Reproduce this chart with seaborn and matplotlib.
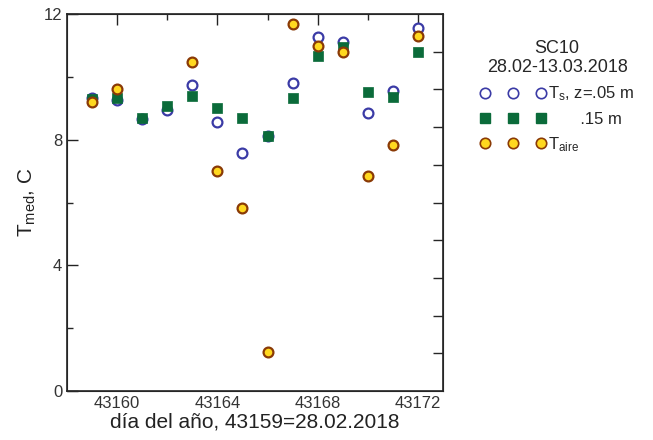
import numpy as np
import pandas as pd
import matplotlib.pyplot as plt
from matplotlib.lines import Line2D
import seaborn as sns

# day index (43159 = 28.02.2018)
dias = [43159, 43160, 43161, 43162, 43163, 43164, 43165,
        43166, 43167, 43168, 43169, 43170, 43171, 43172]
ts_05 = [9.34, 9.26, 8.65, 8.94, 9.73, 8.58, 7.58,
         8.13, 9.81, 11.26, 11.12, 8.84, 9.56, 11.56]
ts_15 = [9.29, 9.32, 8.69, 9.07, 9.38, 9.00, 8.69,
         8.13, 9.34, 10.66, 10.96, 9.53, 9.37, 10.80]
t_aire = [9.19, 9.63, np.nan, np.nan, 10.48, 7.02, 5.83,
          1.25, 11.68, 10.99, 10.78, 6.84, 7.84, 11.31]

df = pd.DataFrame({'dia': dias, 'ts05': ts_05, 'ts15': ts_15, 'aire': t_aire})

sns.set_style('white')
plt.rcParams['font.family'] = ['Liberation Sans', 'DejaVu Sans']
plt.rcParams['mathtext.fontset'] = 'custom'
plt.rcParams['mathtext.rm'] = 'Liberation Sans'
plt.rcParams['mathtext.default'] = 'regular'

fig = plt.figure(figsize=(6.53, 4.40), dpi=100)
ax = fig.add_axes([0.1026, 0.111, 0.5758, 0.857])

azul = '#3b3ba6'
verde = '#0b6b3a'
amarillo = '#ffd81f'
borde = '#8a3a06'

sns.scatterplot(data=df, x='dia', y='ts05', ax=ax, marker='o', s=50,
                facecolor='white', edgecolor=azul, linewidth=1.6, legend=False, zorder=3)
sns.scatterplot(data=df, x='dia', y='ts15', ax=ax, marker='s', s=50,
                color=verde, edgecolor=verde, linewidth=0.5, legend=False, zorder=4)
sns.scatterplot(data=df, x='dia', y='aire', ax=ax, marker='o', s=50,
                color=amarillo, edgecolor=borde, linewidth=1.6, legend=False, zorder=5)

ax.set_xlim(43158, 43173)
ax.set_ylim(0, 12)
ax.set_xticks([43160, 43164, 43168, 43172])
ax.set_xticks(np.arange(43160, 43173, 2), minor=True)
ax.set_yticks([0, 4, 8, 12])
ax.set_yticks(np.arange(0, 13, 2), minor=True)
ax.tick_params(axis='both', which='major', direction='in', length=8, width=1,
               labelsize=12, top=True, colors='#222222', labelcolor='#333333')
ax.tick_params(axis='both', which='minor', direction='in', length=4, width=1,
               top=True)
ax.tick_params(axis='y', which='both', right=False)
for sp in ax.spines.values():
    sp.set_linewidth(1.2)
    sp.set_color('#222222')

# right axis has its own unlabelled scale
ax2 = ax.twinx()
ax2.set_ylim(0, 10)
ax2.set_yticks(np.arange(1, 10))
ax2.set_yticklabels([])
ax2.tick_params(axis='y', direction='in', length=7, width=1)
ax2.grid(False)

ax.set_xlabel('día del año, 43159=28.02.2018', fontsize=15, labelpad=1, color='#222222')
ax.set_ylabel(r'T$_{med}$, C', fontsize=15, labelpad=4, color='#222222')

handles = [
    Line2D([], [], linestyle='none', marker='o', markersize=7.5, markerfacecolor='white',
           markeredgecolor=azul, markeredgewidth=1.2),
    Line2D([], [], linestyle='none', marker='s', markersize=7.5, markerfacecolor=verde,
           markeredgecolor=verde),
    Line2D([], [], linestyle='none', marker='o', markersize=7.5, markerfacecolor=amarillo,
           markeredgecolor=borde, markeredgewidth=1.2),
]
labels = [r'T$_s$, z=.05 m', '       .15 m', r'T$_{aire}$']
leg = ax.legend(handles, labels, numpoints=3, loc='upper left',
                bbox_to_anchor=(1.08, 0.95), frameon=False, fontsize=12,
                title='SC10\n28.02-13.03.2018', title_fontsize=13,
                handlelength=4.0, handletextpad=0.1, labelspacing=0.5,
                borderaxespad=0)
leg.get_title().set_multialignment('center')
leg.set_zorder(10)

fig.savefig('out.png', dpi=100)
